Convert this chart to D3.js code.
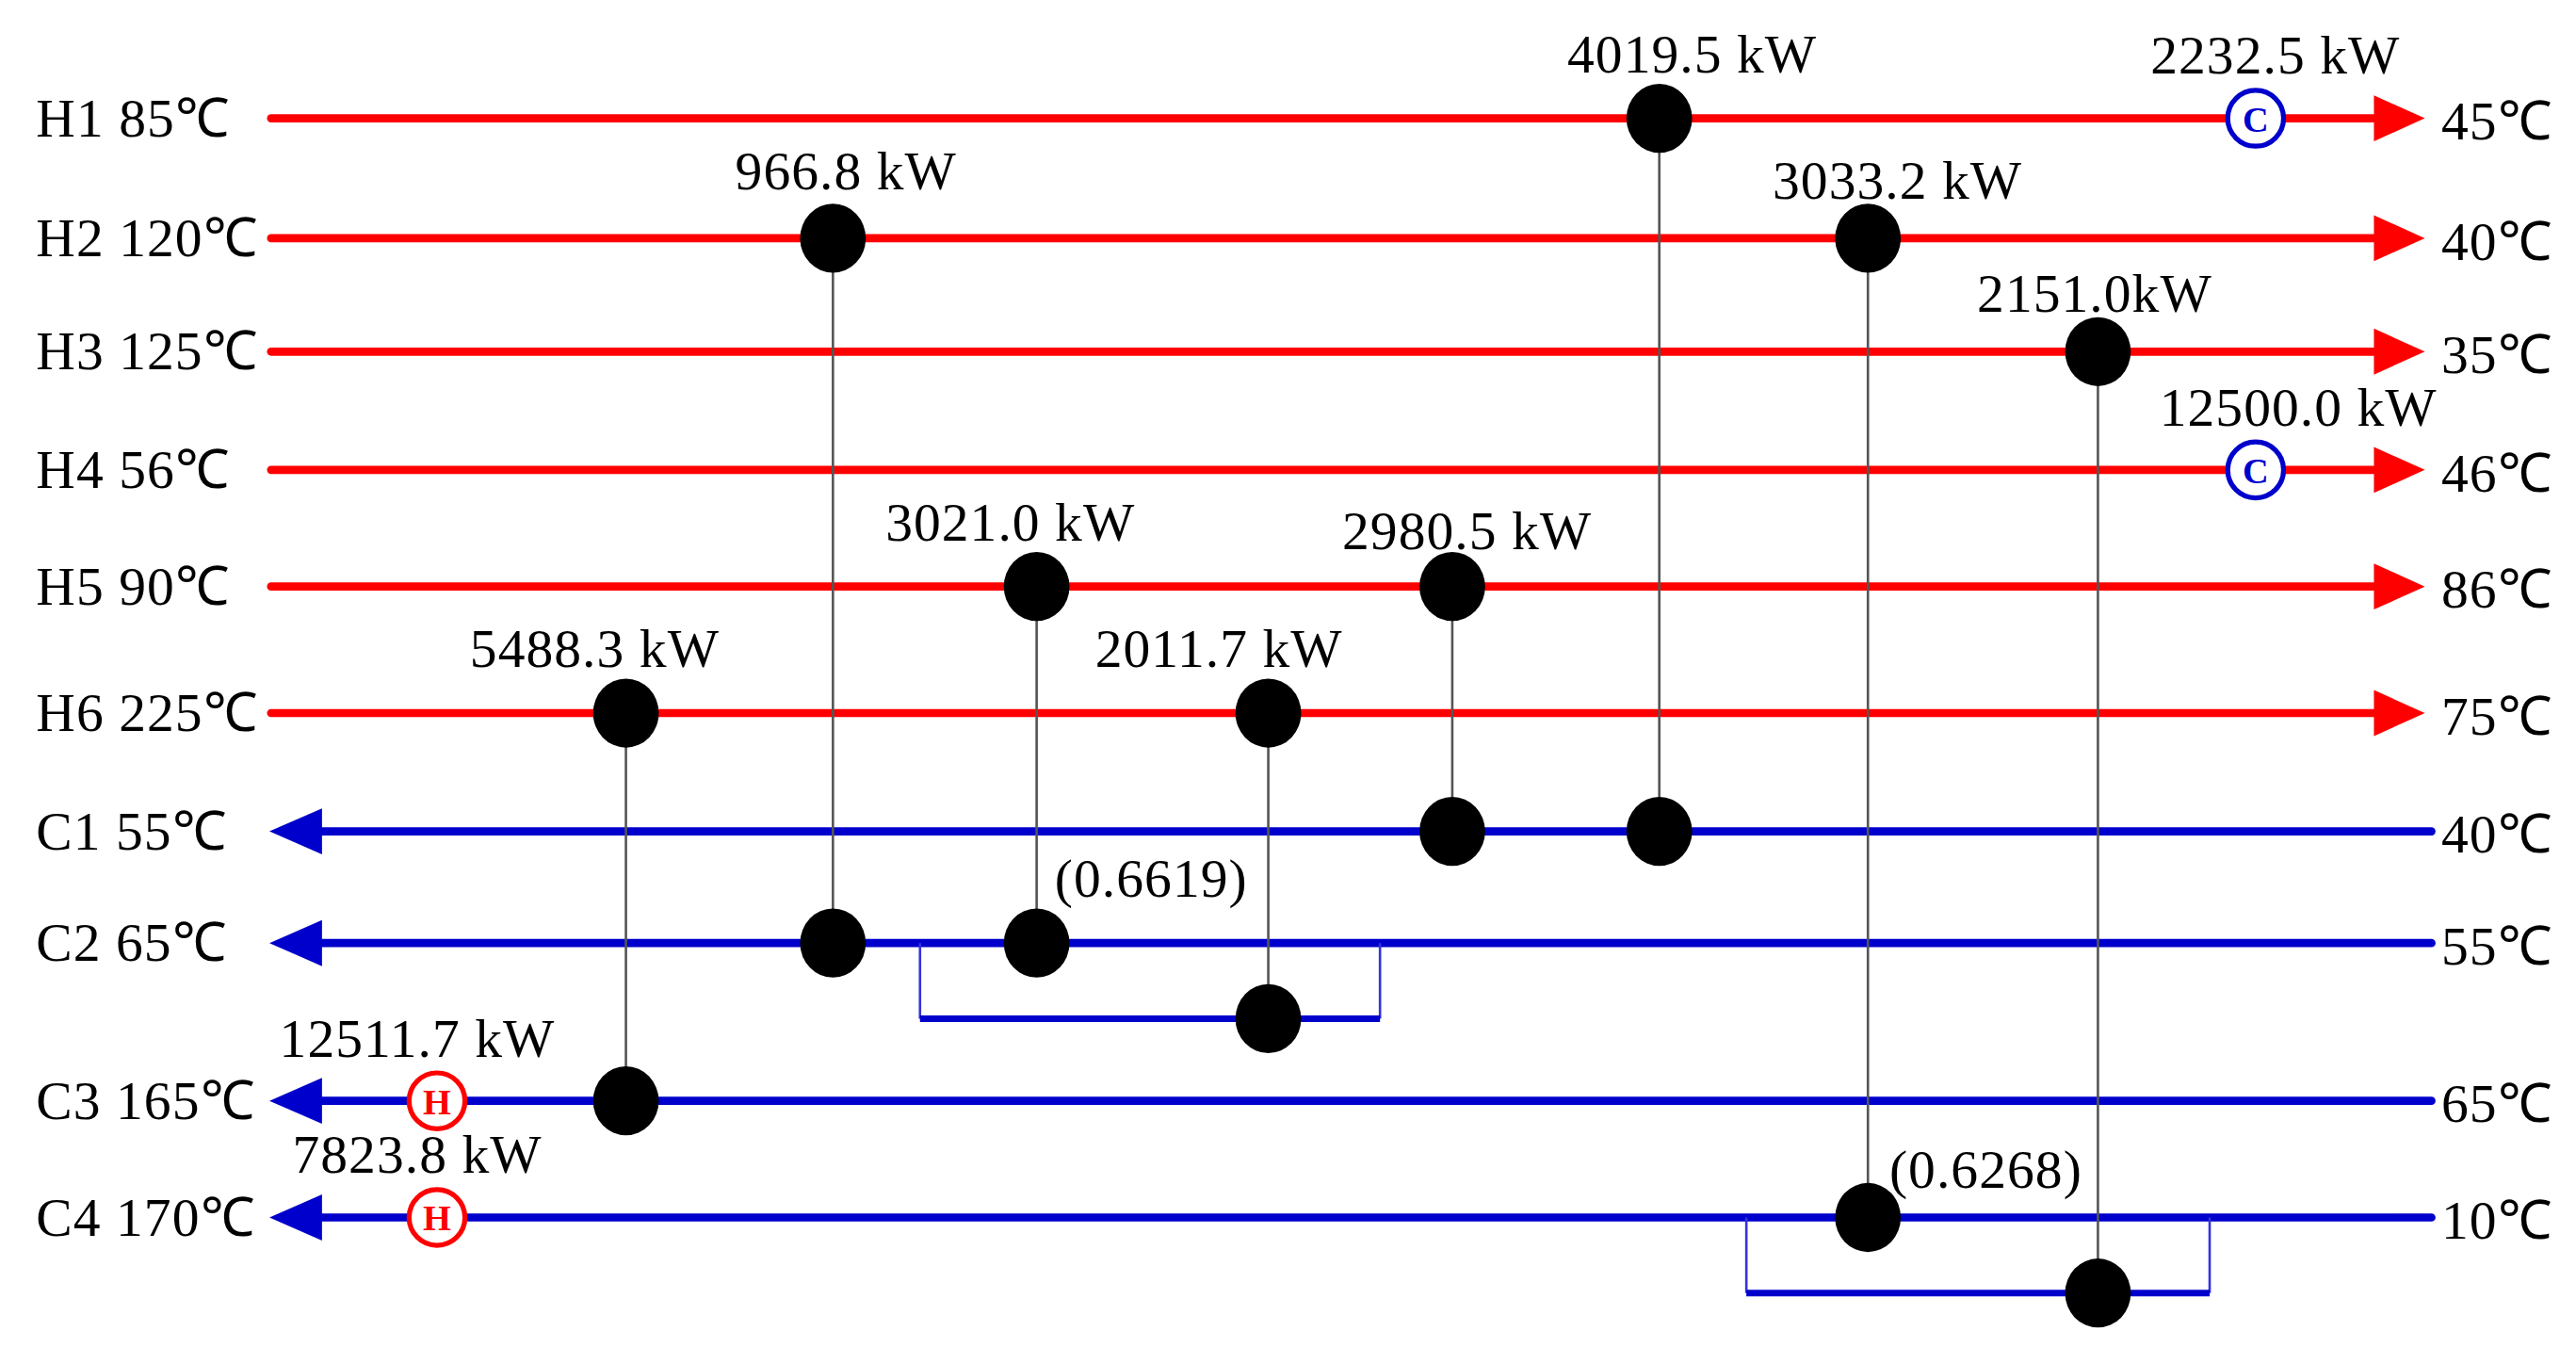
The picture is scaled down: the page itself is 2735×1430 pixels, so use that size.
<!DOCTYPE html>
<html><head><meta charset="utf-8">
<script src="https://d3js.org/d3.v7.min.js"></script>
<style>body{margin:0;background:#fff}</style></head>
<body><svg id="c" width="2735" height="1430"></svg>
<script>
const streams = ["H1","H2","H3","H4","H5","H6","C1","C2","C2b","C3","C4","C4b"];
const inletLabels = ["H1 85℃","H2 120℃","H3 125℃","H4 56℃","H5 90℃","H6 225℃","C1 55℃","C2 65℃","","C3 165℃","C4 170℃",""];
const outletLabels = ["45℃","40℃","35℃","46℃","86℃","75℃","40℃","55℃","","65℃","10℃",""];
const matchHot = ["H1","H2","H2","H3","H5","H5","H6","H6"];
const matchCold = ["C1","C2","C4","C4b","C2","C1","C3","C2b"];
const matchPos = [1010,507,1137,1277,631,884,381,772];
const matchLoad = ["4019.5 kW","966.8 kW","3033.2 kW","2151.0kW","3021.0 kW","2980.5 kW","5488.3 kW","2011.7 kW"];
const utilStream = ["H1","H4","C3","C4"];
const utilType = ["C","C","H","H"];
const utilPos = [1373,1373,266,266];
const utilLoad = ["2232.5 kW","12500.0 kW","12511.7 kW","7823.8 kW"];
const splitRatio = ["(0.6619)","(0.6268)"];

// layout (label offsets)
const matchLabelDx = [20,8,18,-2,-16,9,-19,-30];
const matchLabelDy = [-28,-30,-24,-24,-28,-23,-28,-28];
const utilLabelDx = [12,26,-12,-12];

const k = 2735/1568;
const svg = d3.select("#c").append("g").attr("transform",`scale(${k})`);
const yRows = [72,145,214,286,357,434,506,574,620,670,741,787];
const y = d3.scaleOrdinal().domain(streams).range(yRows);
const x = d3.scaleLinear().domain([0,1568]).range([0,1568]);
const RED="#ff0000", BLUE="#0000cc", F="Liberation Serif", FS=33;
const txt=(xx,yy,t)=>svg.append("text").attr("x",xx).attr("y",yy).text(t).attr("font-family",F).attr("font-size",FS).attr("letter-spacing",0.6);

["H1","H2","H3","H4","H5","H6"].forEach(s=>{
  svg.append("line").attr("x1",x(165)).attr("x2",x(1448)).attr("y1",y(s)).attr("y2",y(s)).attr("stroke",RED).attr("stroke-width",5).attr("stroke-linecap","round");
  svg.append("path").attr("d",`M${x(1445)},${y(s)-14}L${x(1476)},${y(s)}L${x(1445)},${y(s)+14}Z`).attr("fill",RED);
});
["C1","C2","C3","C4"].forEach(s=>{
  svg.append("line").attr("x1",x(192)).attr("x2",x(1480)).attr("y1",y(s)).attr("y2",y(s)).attr("stroke",BLUE).attr("stroke-width",5).attr("stroke-linecap","round");
  svg.append("path").attr("d",`M${x(196)},${y(s)-14}L${x(164)},${y(s)}L${x(196)},${y(s)+14}Z`).attr("fill",BLUE);
});
[["C2","C2b",560,840],["C4","C4b",1063,1345]].forEach(([m,b,a,c])=>{
  svg.append("path").attr("d",`M${x(a)},${y(m)}V${y(b)}M${x(c)},${y(m)}V${y(b)}`).attr("stroke","#3333dd").attr("stroke-width",1.5).attr("fill","none");
  svg.append("line").attr("x1",x(a)).attr("x2",x(c)).attr("y1",y(b)).attr("y2",y(b)).attr("stroke",BLUE).attr("stroke-width",4);
});
streams.forEach((s,i)=>{
  if(inletLabels[i]) txt(22,y(s)+11,inletLabels[i]);
  if(outletLabels[i]) txt(1486,y(s)+13,outletLabels[i]);
});
matchPos.forEach((p,i)=>{
  svg.append("line").attr("x1",x(p)).attr("x2",x(p)).attr("y1",y(matchHot[i])).attr("y2",y(matchCold[i])).attr("stroke","#555").attr("stroke-width",1.5);
  [matchHot[i],matchCold[i]].forEach(s=>svg.append("ellipse").attr("cx",x(p)).attr("cy",y(s)).attr("rx",20).attr("ry",21).attr("fill","#000"));
  txt(x(p)+matchLabelDx[i],y(matchHot[i])+matchLabelDy[i],matchLoad[i]).attr("text-anchor","middle");
});
utilPos.forEach((p,i)=>{
  const s=utilStream[i], col=utilType[i]=="C"?BLUE:RED;
  svg.append("circle").attr("cx",x(p)).attr("cy",y(s)).attr("r",17).attr("fill","#fff").attr("stroke",col).attr("stroke-width",3);
  svg.append("text").attr("x",x(p)).attr("y",y(s)+8).attr("text-anchor","middle").text(utilType[i]).attr("font-family",F).attr("font-weight","bold").attr("font-size",22).attr("fill",col);
  txt(x(p)+utilLabelDx[i],y(s)-27,utilLoad[i]).attr("text-anchor","middle");
});
txt(642,y("C2")-28,splitRatio[0]);
txt(1150,y("C4")-18,splitRatio[1]);
</script></body></html>
